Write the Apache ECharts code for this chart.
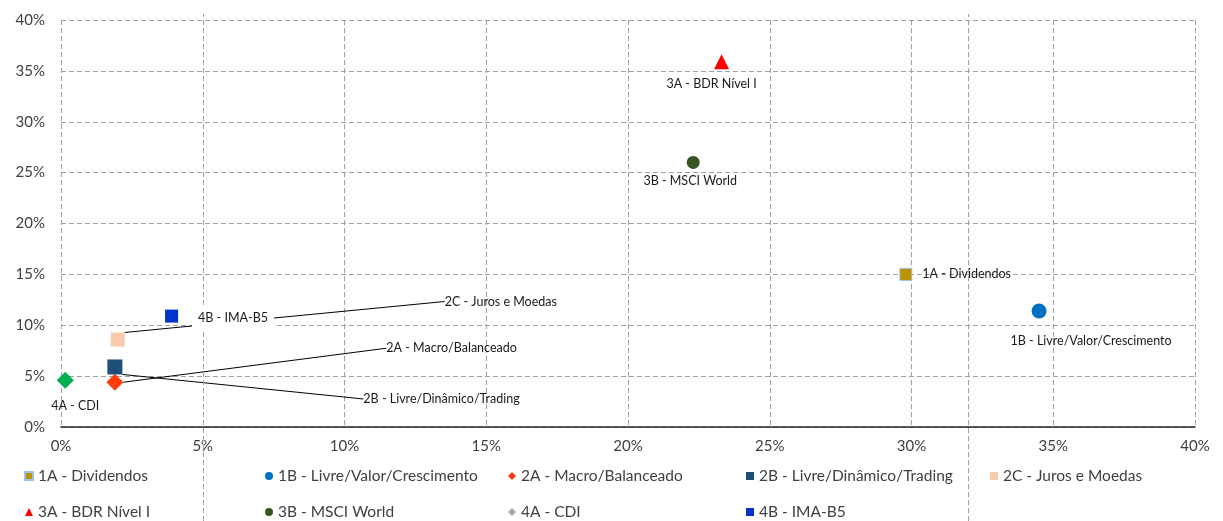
<!DOCTYPE html>
<html>
<head>
<meta charset="utf-8">
<script src="https://cdn.jsdelivr.net/npm/echarts@6/dist/echarts.min.js"></script>
<style>html,body{margin:0;padding:0;background:#fff;}#c{width:1223px;height:521px;}</style>
</head>
<body>
<div id="c"></div>
<script>
// Series names (legend order)
var seriesNames = [
  '1A - Dividendos', '1B - Livre/Valor/Crescimento', '2A - Macro/Balanceado',
  '2B - Livre/Dinâmico/Trading', '2C - Juros e Moedas', '3A - BDR Nível I',
  '3B - MSCI World', '4A - CDI', '4B - IMA-B5'
];
// x values (%) and y values (%) per series, one point each
var xValues = [29.8, 34.5, 1.9, 1.9, 2.0, 23.3, 22.3, 0.15, 3.9];
var yValues = [15.0, 11.4, 4.4, 5.9, 8.6, 35.9, 26.0, 4.6, 10.9];
// axis ticks (%)
var xTicks = [0, 5, 10, 15, 20, 25, 30, 35, 40];
var yTicks = [0, 5, 10, 15, 20, 25, 30, 35, 40];
// stray guide lines visible in the picture (x in %)
var extraGuideX = [5, 32];

var FONT = 'Lato';
var TXT = '#404040';

var styles = [
  {symbol: 'rect', size: 12, color: '#BF9000', border: '#9DC3E6', bw: 1, label: {position: 'right', distance: 10, offset: [0, 0]}},
  {symbol: 'circle', size: 15, color: '#0070C0', label: {position: 'bottom', distance: 5, offset: [52, 11]}},
  {symbol: 'diamond', size: 17, color: '#FF3D0F', label: {position: 'right', distance: 5}, layout: {dx: 258, dy: -34}},
  {symbol: 'rect', size: 15, color: '#1F4E79', label: {position: 'right', distance: 5}, layout: {dx: 236, dy: 32}},
  {symbol: 'rect', size: 14, color: '#F8CBAD', label: {position: 'right', distance: 5}, layout: {dx: 315, dy: -38}},
  {symbol: 'triangle', size: 15, color: '#FF0000', label: {position: 'bottom', distance: 5, offset: [-10, 3]}},
  {symbol: 'circle', size: 13, color: '#375623', label: {position: 'bottom', distance: 5, offset: [-3, 1]}},
  {symbol: 'diamond', size: 17, color: '#00B050', legendColor: '#A6A6A6', label: {position: 'bottom', distance: 5, offset: [10, 6]}},
  {symbol: 'rect', size: 13, color: '#0033CC', label: {position: 'right', distance: 14, offset: [0, 2]}, bg: true}
];

var series = seriesNames.map(function (name, i) {
  var st = styles[i];
  var lbl = {
    show: true,
    formatter: name,
    fontFamily: FONT,
    fontSize: 12.5,
    color: '#1a1a1a',
    position: st.label.position,
    distance: st.label.distance
  };
  if (st.label.offset) lbl.offset = st.label.offset;
  if (st.bg) { lbl.backgroundColor = '#fff'; lbl.padding = [6, 6, 6, 6]; }
  var s = {
    name: name,
    type: 'scatter',
    xAxisIndex: 0, yAxisIndex: 0,
    symbol: st.symbol,
    symbolSize: st.size,
    z: 3,
    itemStyle: {color: st.legendColor || st.color, opacity: 1},
    data: [{
      value: [xValues[i], yValues[i]],
      itemStyle: {color: st.color, borderColor: st.border || st.color, borderWidth: st.bw || 0, opacity: 1}
    }],
    label: lbl,
    emphasis: {disabled: true}
  };
  if (st.bg) s.zlevel = 1;
  if (st.border) { s.itemStyle.borderColor = st.border; s.itemStyle.borderWidth = st.bw; }
  if (st.layout) {
    s.labelLayout = st.layout;
    s.labelLine = {show: true, lineStyle: {color: '#000', width: 1}};
  }
  return s;
});

series.push({
  type: 'scatter',
  xAxisIndex: 1, yAxisIndex: 1,
  data: [],
  silent: true,
  z: 1,
  markLine: {
    silent: true,
    symbol: 'none',
    label: {show: false},
    lineStyle: {color: '#A0A0A0', type: [5, 3], width: 1},
    data: extraGuideX.map(function (v) { return {xAxis: v}; })
  }
});

// legend laid out in 5 columns, 2 rows (row-major order of seriesNames)
var legendColumnLeft = [24, 265, 508, 746, 990];
var legends = legendColumnLeft.map(function (left, c) {
  var idx = [c, c + 5].filter(function (k) { return k < seriesNames.length; });
  return {
    data: idx.map(function (k) { return {name: seriesNames[k], icon: styles[k].symbol}; }),
    left: left, top: 468, height: 80, width: 240, orient: 'vertical', padding: 0,
    itemWidth: 8, itemHeight: 8, itemGap: 20,
    textStyle: {fontFamily: FONT, fontSize: 15.5, color: TXT},
    selectedMode: false
  };
});

var option = {
  animation: false,
  backgroundColor: '#fff',
  grid: [
    {left: 61, right: 28, top: 20, bottom: 94, containLabel: false},
    {left: 61, right: 28, top: 14, bottom: 0, containLabel: false}
  ],
  xAxis: [{
    type: 'value', gridIndex: 0, min: xTicks[0], max: xTicks[xTicks.length - 1], interval: xTicks[1] - xTicks[0],
    axisLine: {show: true, lineStyle: {color: '#262626', width: 1.5}},
    axisTick: {show: false},
    axisLabel: {formatter: '{value}%', fontFamily: FONT, fontSize: 15, color: TXT, margin: 12},
    splitLine: {show: true, lineStyle: {color: '#A0A0A0', type: [5, 3], width: 1}}
  }, {
    type: 'value', gridIndex: 1, min: xTicks[0], max: xTicks[xTicks.length - 1], show: false
  }],
  yAxis: [{
    type: 'value', gridIndex: 0, min: yTicks[0], max: yTicks[yTicks.length - 1], interval: yTicks[1] - yTicks[0],
    axisLine: {show: false},
    axisTick: {show: false},
    axisLabel: {formatter: '{value}%', fontFamily: FONT, fontSize: 15, color: TXT, margin: 16},
    splitLine: {show: true, lineStyle: {color: '#A0A0A0', type: [5, 3], width: 1}}
  }, {
    type: 'value', gridIndex: 1, min: 0, max: 1, show: false
  }],
  legend: legends,
  series: series
};

var chart = echarts.init(document.getElementById('c'), null, {renderer: 'canvas'});
chart.setOption(option);
</script>
</body>
</html>
